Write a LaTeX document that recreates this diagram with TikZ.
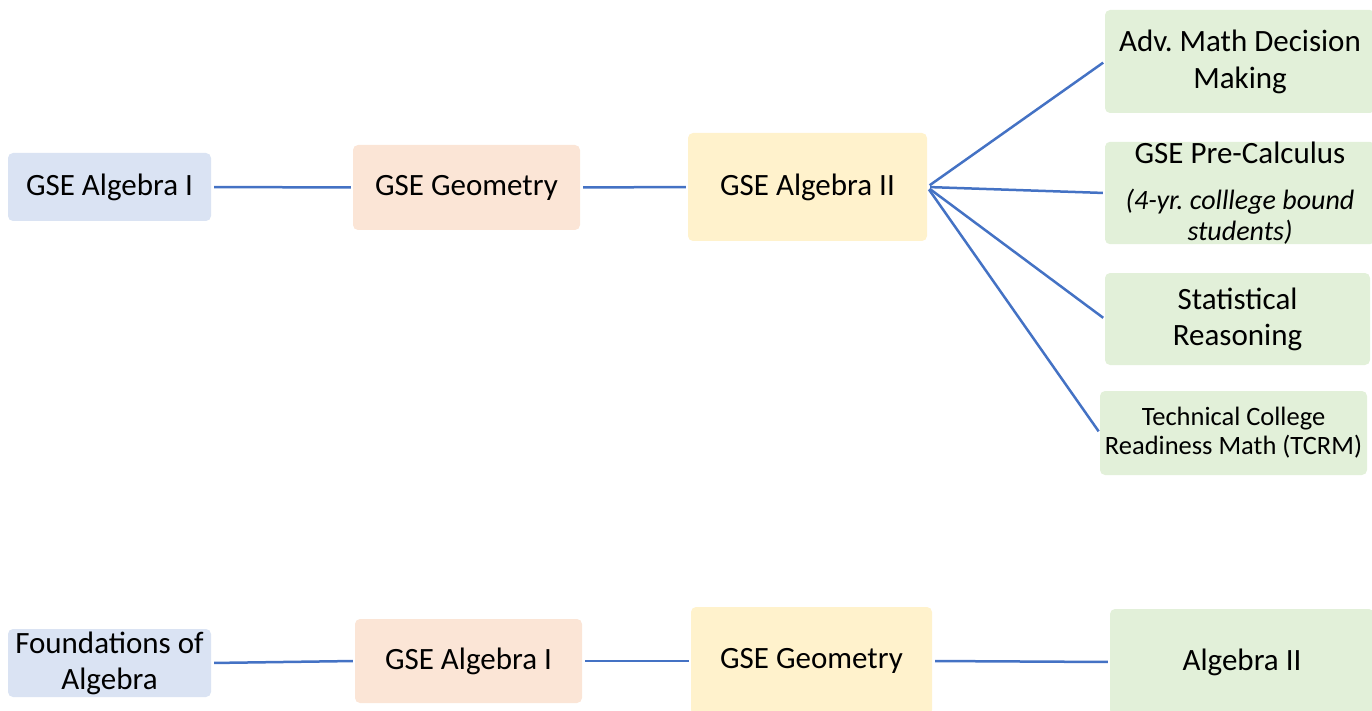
\documentclass[tikz,border=0pt]{standalone}
\usepackage{fontspec}
\setmainfont{Carlito}
\frenchspacing
\begin{document}
\begin{tikzpicture}[x=1pt,y=-1pt,
  box/.style={rounded corners=5pt, inner sep=0pt, align=center, text=black,
    font=\fontsize{31}{36}\selectfont},
  blu/.style={box, fill={rgb,255:red,218;green,227;blue,243}},
  ora/.style={box, fill={rgb,255:red,251;green,229;blue,214}},
  yel/.style={box, fill={rgb,255:red,255;green,242;blue,204}},
  grn/.style={box, fill={rgb,255:red,226;green,240;blue,217}},
  conn/.style={draw={rgb,255:red,68;green,114;blue,196}, line width=2.5pt, shorten <=3pt, shorten >=2pt}]
\clip (0,0) rectangle (1372,711);
\useasboundingbox (0,0) rectangle (1372,711);
% top row
\node[blu, minimum width=203pt, minimum height=68pt] (a1) at (109.5,187) {GSE Algebra I};
\node[ora, minimum width=227pt, minimum height=85pt] (g1) at (466.5,187.5) {GSE Geometry};
\node[yel, minimum width=239pt, minimum height=108pt] (b1) at (807.5,187) {GSE Algebra II};
\node[grn, minimum width=270pt, minimum height=103pt] (adv) at (1240,61.5) {Adv. Math Decision\\[1pt]Making};
\node[grn, minimum width=270pt, minimum height=100pt] (pre) at (1240,193) {GSE Pre-Calculus\\[10pt]{\fontsize{28}{31}\selectfont\itshape (4-yr. colllege bound}\\[-5pt]{\fontsize{28}{31}\selectfont\itshape students)}};
\node[grn, minimum width=265pt, minimum height=92pt] (stat) at (1237.5,319) {Statistical\\Reasoning};
\node[grn, minimum width=267pt, minimum height=84pt, font=\fontsize{26.5}{29}\selectfont] (tcrm) at (1233.5,433) {Technical College\\Readiness Math (TCRM)};
% bottom row
\node[blu, minimum width=203pt, minimum height=68pt] (f) at (109.5,663) {Foundations of\\Algebra};
\node[ora, minimum width=227pt, minimum height=84pt] (a2) at (468.5,661) {GSE Algebra I};
\node[yel, minimum width=241pt, minimum height=108pt] (g2) at (811.5,661) {GSE Geometry};
\node[grn, minimum width=264pt, minimum height=106pt] (alg2) at (1242,662) {Algebra II};
% connectors
\draw[conn] (a1.east) -- (g1.west);
\draw[conn] (g1.east) -- (b1.west);
\draw[conn] (b1.east) -- (adv.west);
\draw[conn] (b1.east) -- (pre.west);
\draw[conn] (b1.east) -- (stat.west);
\draw[conn] (b1.east) -- (tcrm.west);
\draw[conn] (f.east) -- (a2.west);
\draw[conn] (a2.east) -- (g2.west);
\draw[conn] (g2.east) -- (alg2.west);
\end{tikzpicture}
\end{document}
